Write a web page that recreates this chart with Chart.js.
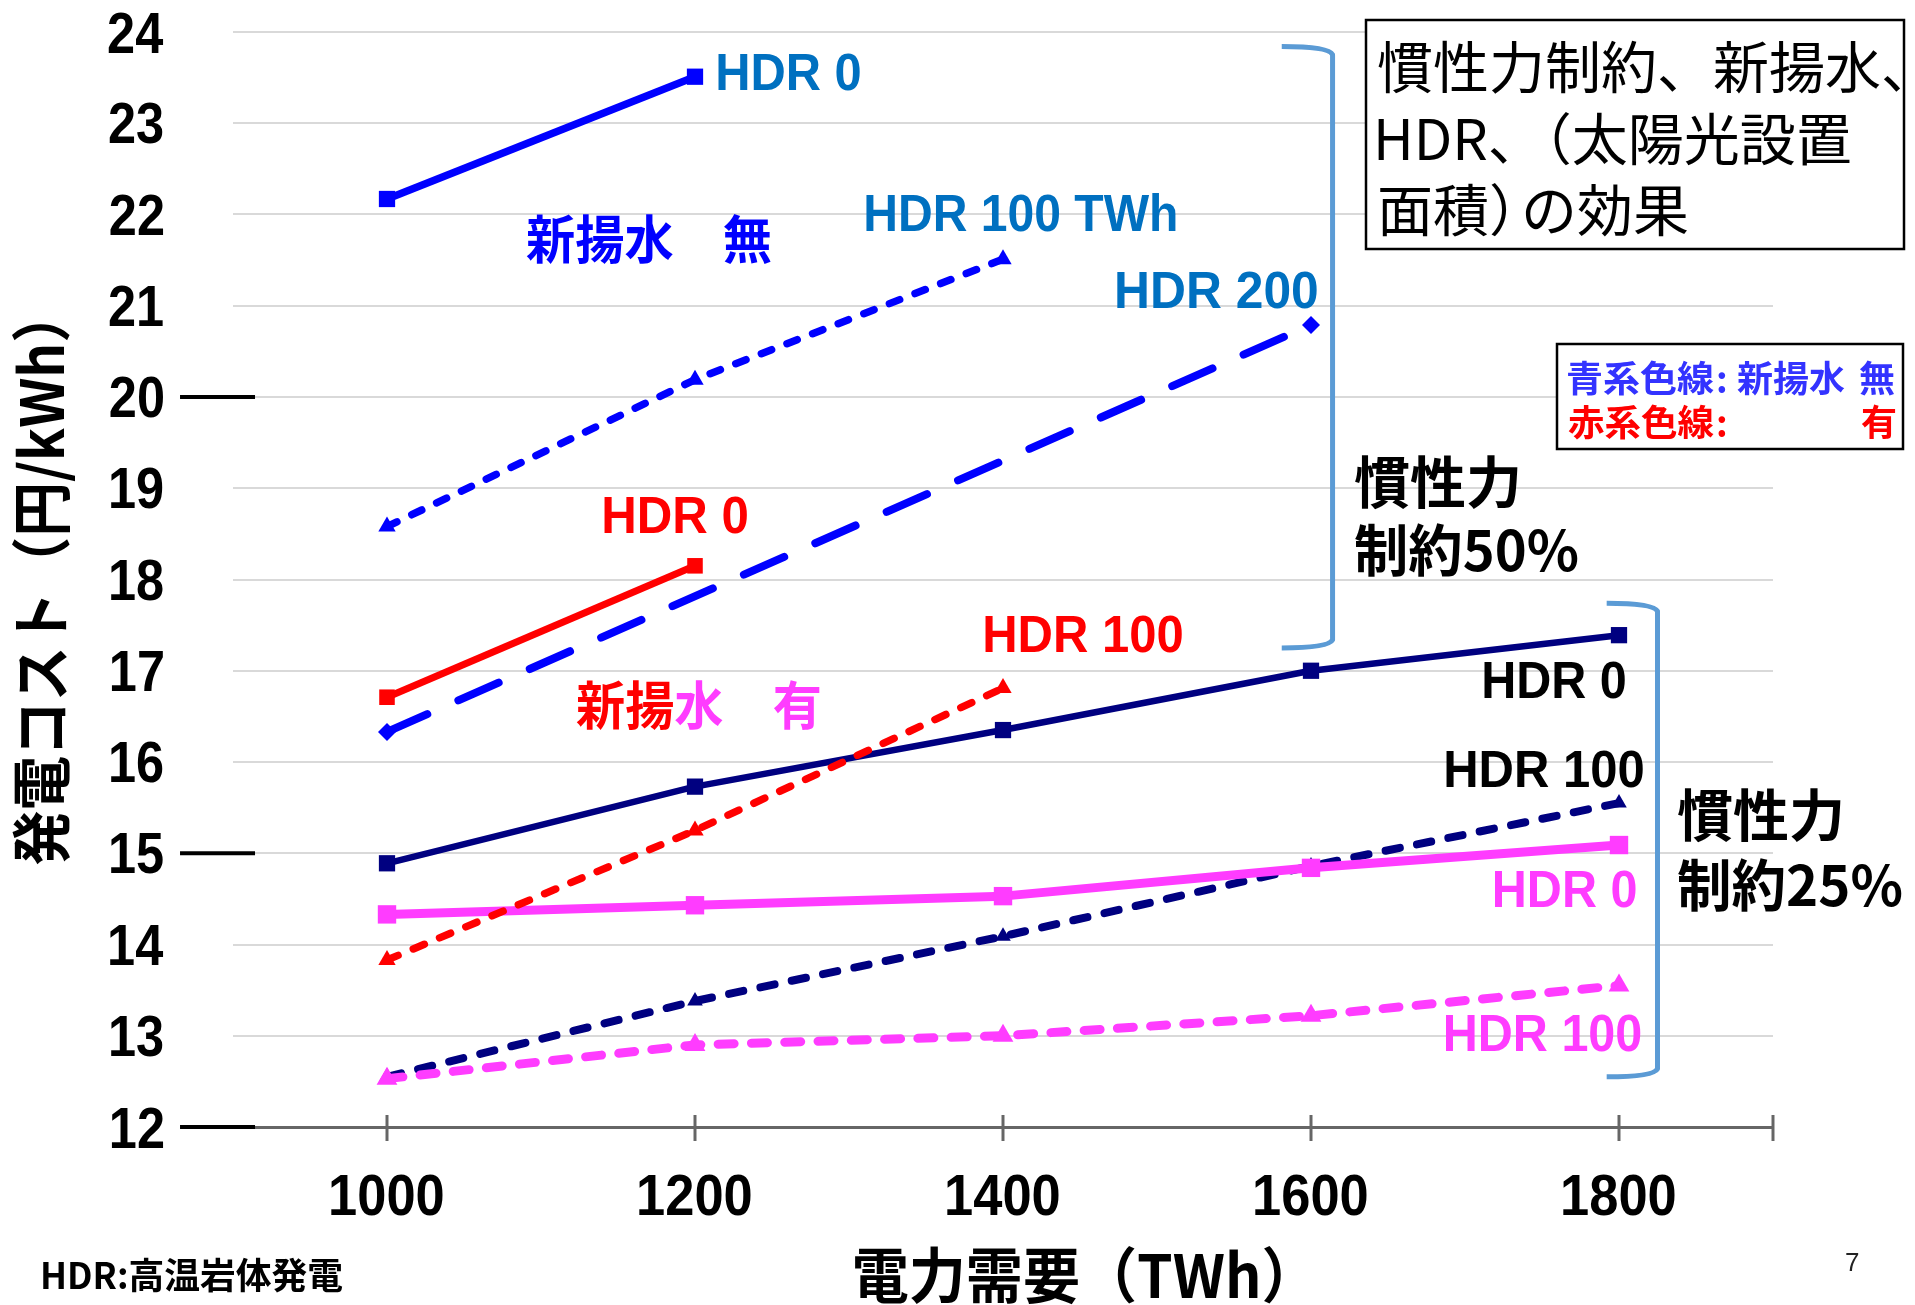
<!DOCTYPE html>
<html>
<head>
<meta charset="utf-8">
<script src="https://cdn.jsdelivr.net/npm/chart.js@4.4.1/dist/chart.umd.min.js"></script>
<style>
html,body{margin:0;padding:0;background:#fff;overflow:hidden}
#c{display:block}
</style>
</head>
<body>
<canvas id="c" width="1915" height="1305"></canvas>
<script>
// ---------------- data ----------------
const demand = [1000, 1200, 1400, 1600, 1800];          // 電力需要 (TWh)
const xTickValues = [1000, 1200, 1400, 1600, 1800];
const yTickValues = [12, 13, 14, 15, 16, 17, 18, 19, 20, 21, 22, 23, 24];
// 慣性力制約50%
const noPump50Hdr0   = [22.17, 23.51, null, null, null];   // 新揚水 無, HDR 0
const noPump50Hdr100 = [18.58, 20.19, 21.51, null, null];  // 新揚水 無, HDR 100
const noPump50Hdr200 = [16.33, null, null, 20.79, null];   // 新揚水 無, HDR 200
const pump50Hdr0     = [16.71, 18.15, null, null, null];   // 新揚水 有, HDR 0
const pump50Hdr100   = [13.83, 15.25, 16.81, null, null];  // 新揚水 有, HDR 100
// 慣性力制約25%
const noPump25Hdr0   = [14.89, 15.73, 16.35, 17.00, 17.39];
const noPump25Hdr100 = [12.55, 13.38, 14.09, 14.86, 15.55];
const pump25Hdr0     = [14.33, 14.43, 14.53, 14.84, 15.09];
const pump25Hdr100   = [12.53, 12.90, 13.00, 13.22, 13.55];

// ---------------- styles ----------------
const JP = '"Noto Sans CJK JP", "Noto Sans CJK SC", sans-serif';
const LAT = '"Liberation Sans", Arial, sans-serif';
const BLUE = '#0000FF', NAVY = '#000080', RED = '#FF0000', MAG = '#FF3CFF', LBL = '#0070C0', BRK = '#5B9BD5';

function series(label, values, color, width, dash, style, radius, spanGaps) {
  return {
    label,
    data: demand.map((x, i) => ({x: x, y: values[i]})),
    borderColor: color, backgroundColor: color,
    borderWidth: width, borderDash: dash,
    borderCapStyle: dash.length ? 'round' : 'butt', borderJoinStyle: 'round',
    pointStyle: style, pointRadius: radius, pointHoverRadius: radius,
    pointBorderWidth: 0, pointBackgroundColor: color,
    tension: 0, fill: false, spanGaps: !!spanGaps
  };
}

const datasets = [
  series('新揚水有 HDR100 (50%)', pump50Hdr100, RED, 7.5, [12, 16.5], 'triangle', 10),
  series('新揚水有 HDR0 (25%)', pump25Hdr0, MAG, 9, [], 'rect', 13),
  series('新揚水有 HDR100 (25%)', pump25Hdr100, MAG, 9, [16, 17.3], 'triangle', 12),
  series('新揚水無 HDR100 (25%)', noPump25Hdr100, NAVY, 8, [14.5, 17.5], 'triangle', 9),
  series('新揚水無 HDR0 (25%)', noPump25Hdr0, NAVY, 6.5, [], 'rect', 11.5),
  series('新揚水有 HDR0 (50%)', pump50Hdr0, RED, 7, [], 'rect', 11),
  series('新揚水無 HDR200 (50%)', noPump50Hdr200, BLUE, 8, [44, 34], 'rectRot', 9, true),
  series('新揚水無 HDR100 (50%)', noPump50Hdr100, BLUE, 7.5, [11, 16.5], 'triangle', 10),
  series('新揚水無 HDR0 (50%)', noPump50Hdr0, BLUE, 7.5, [], 'rect', 11.5)
];

// ---------------- annotations ----------------
// in-plot labels anchored in data units (x: TWh, y: 円/kWh)
const plotLabels = [
  {t: 'HDR 0', x: 1214.9, y: 23.56, align: 'left', w: 142, size: 52, fam: LAT, c: LBL},
  {t: 'HDR 100 TWh', x: 1311.0, y: 22.02, align: 'left', w: 310, size: 52, fam: LAT, c: LBL},
  {t: 'HDR 200', x: 1474.0, y: 21.17, align: 'left', w: 200, size: 52, fam: LAT, c: LBL},
  {t: 'HDR 0', x: 1140.9, y: 18.71, align: 'left', w: 143, size: 52, fam: LAT, c: RED},
  {t: 'HDR 100', x: 1388.3, y: 17.40, align: 'left', w: 197, size: 52, fam: LAT, c: RED},
  {t: 'HDR 0', x: 1803.9, y: 16.90, align: 'right', w: 141, size: 52, fam: LAT, c: '#000'},
  {t: 'HDR 100', x: 1815.6, y: 15.92, align: 'right', w: 197, size: 52, fam: LAT, c: '#000'},
  {t: 'HDR 0', x: 1810.8, y: 14.61, align: 'right', w: 141, size: 52, fam: LAT, c: MAG},
  {t: 'HDR 100', x: 1814.0, y: 13.03, align: 'right', w: 195, size: 52, fam: LAT, c: MAG},
  {t: [['新揚水　無', BLUE]], x: 1090.3, y: 21.73, align: 'left', w: 245, size: 52, fam: JP},
  {t: [['新揚', RED], ['水　有', MAG]], x: 1122.7, y: 16.62, align: 'left', w: 244, size: 52, fam: JP},
  {t: '慣性力', x: 1628.6, y: 19.06, align: 'left', w: 163, size: 56, fam: JP, c: '#000'},
  {t: '制約50%', x: 1628.6, y: 18.32, align: 'left', w: 223, size: 56, fam: JP, c: '#000'},
  {t: '慣性力', x: 1838.3, y: 15.41, align: 'left', w: 163, size: 56, fam: JP, c: '#000'},
  {t: '制約25%', x: 1838.3, y: 14.65, align: 'left', w: 224, size: 56, fam: JP, c: '#000'}
];
// brackets in data units
const brackets = [
  {x0: 1581, x1: 1614, yTop: 23.84, yBot: 17.25},
  {x0: 1792, x1: 1825, yTop: 17.74, yBot: 12.55}
];
const yAxisMarks = [20, 15, 12];
const xAxisMarks = [1000, 1200, 1400, 1600, 1800, 1900];

function inkText(ctx, s, o) {
  ctx.save();
  ctx.font = (o.weight || 'bold') + ' ' + o.size + 'px ' + (o.fam || JP);
  ctx.textAlign = 'left';
  ctx.textBaseline = 'alphabetic';
  const parts = Array.isArray(s) ? s : [[s, o.c || '#000']];
  const full = parts.map(p => p[0]).join('');
  const m = ctx.measureText(full);
  const L = -m.actualBoundingBoxLeft, R = m.actualBoundingBoxRight;
  const T = -m.actualBoundingBoxAscent, B = m.actualBoundingBoxDescent;
  const sx = o.w ? o.w / (R - L) : (o.sx || 1);
  const lx = o.align === 'right' ? R : (o.align === 'center' ? (L + R) / 2 : L);
  const ly = (o.cy !== undefined) ? o.cy : (T + B) / 2;
  ctx.translate(o.x, o.y);
  if (o.rot) ctx.rotate(o.rot);
  ctx.scale(sx, 1);
  let cx = -lx;
  for (const p of parts) {
    ctx.fillStyle = p[1];
    ctx.fillText(p[0], cx, -ly);
    cx += ctx.measureText(p[0]).width;
  }
  ctx.restore();
}

const decoPlugin = {
  id: 'deco',
  afterDraw(chart) {
    const ctx = chart.ctx;
    const xs = chart.scales.x, ys = chart.scales.y;
    const area = chart.chartArea;
    const X = v => xs.getPixelForValue(v), Y = v => ys.getPixelForValue(v);
    const base = Y(12);

    // tick labels (condensed bold digits), taken from the scales' own ticks
    ys.ticks.forEach(t => inkText(ctx, String(t.value), {x: area.left - 70, y: Y(t.value), align: 'right', size: 58, sx: 0.87, fam: LAT, c: '#000'}));
    xs.ticks.forEach(t => inkText(ctx, String(t.value), {x: X(t.value), y: area.bottom + 68, align: 'center', size: 57, sx: 0.92, fam: LAT, c: '#000'}));

    ctx.save();
    // crossing tick marks on the x axis
    ctx.strokeStyle = '#666666';
    ctx.lineWidth = 3;
    xAxisMarks.forEach(v => {
      ctx.beginPath(); ctx.moveTo(X(v), base - 12); ctx.lineTo(X(v), base + 14); ctx.stroke();
    });
    // black dashes next to some y labels
    ctx.strokeStyle = '#000';
    ctx.lineWidth = 4;
    yAxisMarks.forEach(v => {
      ctx.beginPath(); ctx.moveTo(X(865.6), Y(v)); ctx.lineTo(X(914.3), Y(v)); ctx.stroke();
    });
    // brackets
    ctx.strokeStyle = BRK;
    ctx.lineWidth = 5;
    ctx.lineJoin = 'round';
    brackets.forEach(b => {
      const x0 = X(b.x0), x1 = X(b.x1), t = Y(b.yTop), bo = Y(b.yBot), r = 8;
      ctx.beginPath();
      ctx.moveTo(x0, t);
      ctx.quadraticCurveTo(x1 - 4, t, x1, t + r);
      ctx.lineTo(x1, bo - r);
      ctx.quadraticCurveTo(x1 - 4, bo, x0, bo);
      ctx.stroke();
    });
    ctx.restore();

    // in-plot labels
    plotLabels.forEach(l => inkText(ctx, l.t, {x: X(l.x), y: Y(l.y), align: l.align, w: l.w, size: l.size, fam: l.fam, c: l.c}));

    // title box (top right)
    ctx.save();
    ctx.fillStyle = '#fff';
    ctx.fillRect(1366, 20, 538, 229);
    ctx.strokeStyle = '#000'; ctx.lineWidth = 2.5;
    ctx.strokeRect(1366, 20, 538, 229);
    ctx.restore();
    const boxFont = {align: 'left', size: 56, weight: 'normal', fam: JP, c: '#000'};
    inkText(ctx, '慣性力制約、新揚水、', Object.assign({x: 1378, y: 67}, boxFont));
    inkText(ctx, 'HDR、（太陽光設置', Object.assign({x: 1378, y: 139}, boxFont));
    inkText(ctx, '面積）', Object.assign({x: 1380, y: 210}, boxFont));
    inkText(ctx, 'の効果', Object.assign({x: 1525, y: 210}, boxFont));

    // colour key box
    ctx.save();
    ctx.fillStyle = '#fff';
    ctx.fillRect(1557, 344, 346, 105);
    ctx.strokeStyle = '#000'; ctx.lineWidth = 2.5;
    ctx.strokeRect(1557, 344, 346, 105);
    ctx.restore();
    const KB = '#3333FF';
    inkText(ctx, '青系色線', {x: 1568, y: 378, align: 'left', w: 146, size: 36, fam: JP, c: KB});
    inkText(ctx, ':', {x: 1722, y: 382, align: 'center', size: 36, fam: JP, c: KB});
    inkText(ctx, '新揚水', {x: 1737, y: 378, align: 'left', w: 108, size: 36, fam: JP, c: KB});
    inkText(ctx, '無', {x: 1859, y: 378, align: 'left', size: 36, fam: JP, c: KB});
    inkText(ctx, '赤系色線', {x: 1568, y: 422, align: 'left', w: 146, size: 36, fam: JP, c: RED});
    inkText(ctx, ':', {x: 1722, y: 426, align: 'center', size: 36, fam: JP, c: RED});
    inkText(ctx, '有', {x: 1861, y: 422, align: 'left', size: 36, fam: JP, c: RED});

    // axis titles, footnote, page number
    inkText(ctx, '電力需要（TWh）', {x: 1068, y: 1275, align: 'center', w: 427, size: 60, fam: JP, c: '#000'});
    inkText(ctx, '発電コスト（円/kWh）', {x: 43, y: 594, align: 'center', w: 541, size: 60, fam: JP, c: '#000', rot: -Math.PI / 2});
    inkText(ctx, 'HDR:高温岩体発電', {x: 43, y: 1275, align: 'left', w: 300, size: 36, fam: JP, c: '#000'});
    inkText(ctx, '7', {x: 1846, y: 1262, align: 'left', size: 26, weight: 'normal', fam: LAT, c: '#222'});
  }
};

new Chart(document.getElementById('c'), {
  type: 'line',
  data: {datasets},
  options: {
    responsive: false,
    animation: false,
    devicePixelRatio: 1,
    layout: {padding: {left: 0, right: 142, top: 32, bottom: 0}, autoPadding: false},
    plugins: {legend: {display: false}, tooltip: {enabled: false}, title: {display: false}},
    scales: {
      x: {
        type: 'linear', min: 900, max: 1900,
        afterBuildTicks: s => { s.ticks = xTickValues.map(v => ({value: v})); },
        afterFit: s => { s.height = 178; },
        grid: {display: false, drawTicks: false},
        border: {display: true, color: '#666666', width: 3},
        ticks: {display: false}
      },
      y: {
        type: 'linear', min: 12, max: 24,
        afterBuildTicks: s => { s.ticks = yTickValues.map(v => ({value: v})); },
        afterFit: s => { s.width = 233; },
        grid: {
          drawTicks: false, lineWidth: 2,
          color: c => (c.tick && c.tick.value === 12) ? 'rgba(0,0,0,0)' : '#D9D9D9'
        },
        border: {display: false},
        ticks: {display: false}
      }
    }
  },
  plugins: [decoPlugin]
});
</script>
</body>
</html>
